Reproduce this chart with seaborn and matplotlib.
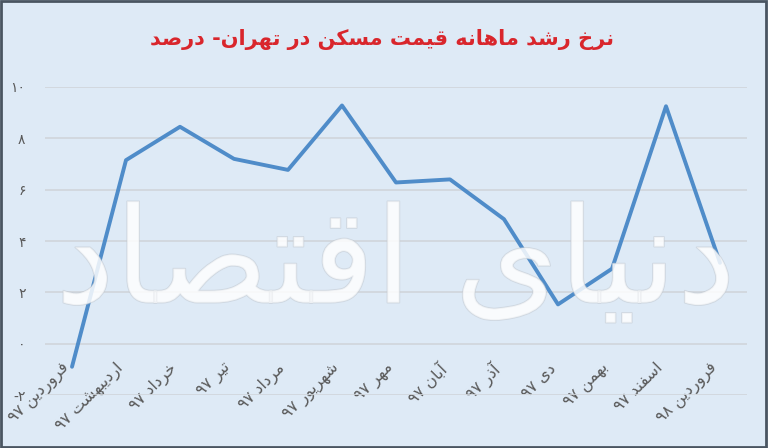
import matplotlib
matplotlib.use("Agg")
import matplotlib.pyplot as plt
import matplotlib.patheffects as pe
import pandas as pd
import seaborn as sns

# ── Data ────────────────────────────────────────────────────────────────────
months = ["فروردین ۹۷", "اردیبهشت ۹۷", "خرداد ۹۷", "تیر ۹۷", "مرداد ۹۷",
          "شهریور ۹۷", "مهر ۹۷", "آبان ۹۷", "آذر ۹۷", "دی ۹۷", "بهمن ۹۷",
          "اسفند ۹۷", "فروردین ۹۸"]
growth = [-0.9, 7.15, 8.45, 7.2, 6.77, 9.28, 6.28, 6.4, 4.85, 1.53, 2.92, 9.25, 3.15]
y_ticks = [-2, 0, 2, 4, 6, 8, 10]
y_labels = ["-۲", "۰", "۲", "۴", "۶", "۸", "۱۰"]
title = "نرخ رشد ماهانه قیمت مسکن در تهران- درصد"
watermark = "دنیای اقتصاد"

# ── Minimal Arabic/Persian shaping (matplotlib has no RTL support) ─────────
# iso, fin, ini, med
FORMS = {
    "ا": (0xFE8D, 0xFE8E, None, None), "آ": (0xFE81, 0xFE82, None, None),
    "ب": (0xFE8F, 0xFE90, 0xFE91, 0xFE92), "ت": (0xFE95, 0xFE96, 0xFE97, 0xFE98),
    "ث": (0xFE99, 0xFE9A, 0xFE9B, 0xFE9C), "ج": (0xFE9D, 0xFE9E, 0xFE9F, 0xFEA0),
    "ح": (0xFEA1, 0xFEA2, 0xFEA3, 0xFEA4), "خ": (0xFEA5, 0xFEA6, 0xFEA7, 0xFEA8),
    "د": (0xFEA9, 0xFEAA, None, None), "ذ": (0xFEAB, 0xFEAC, None, None),
    "ر": (0xFEAD, 0xFEAE, None, None), "ز": (0xFEAF, 0xFEB0, None, None),
    "س": (0xFEB1, 0xFEB2, 0xFEB3, 0xFEB4), "ش": (0xFEB5, 0xFEB6, 0xFEB7, 0xFEB8),
    "ص": (0xFEB9, 0xFEBA, 0xFEBB, 0xFEBC), "ض": (0xFEBD, 0xFEBE, 0xFEBF, 0xFEC0),
    "ط": (0xFEC1, 0xFEC2, 0xFEC3, 0xFEC4), "ظ": (0xFEC5, 0xFEC6, 0xFEC7, 0xFEC8),
    "ع": (0xFEC9, 0xFECA, 0xFECB, 0xFECC), "غ": (0xFECD, 0xFECE, 0xFECF, 0xFED0),
    "ف": (0xFED1, 0xFED2, 0xFED3, 0xFED4), "ق": (0xFED5, 0xFED6, 0xFED7, 0xFED8),
    "ل": (0xFEDD, 0xFEDE, 0xFEDF, 0xFEE0), "م": (0xFEE1, 0xFEE2, 0xFEE3, 0xFEE4),
    "ن": (0xFEE5, 0xFEE6, 0xFEE7, 0xFEE8), "ه": (0xFEE9, 0xFEEA, 0xFEEB, 0xFEEC),
    "و": (0xFEED, 0xFEEE, None, None),
    "پ": (0xFB56, 0xFB57, 0xFB58, 0xFB59), "چ": (0xFB7A, 0xFB7B, 0xFB7C, 0xFB7D),
    "ژ": (0xFB8A, 0xFB8B, None, None), "ک": (0xFB8E, 0xFB8F, 0xFB90, 0xFB91),
    "گ": (0xFB92, 0xFB93, 0xFB94, 0xFB95), "ی": (0xFBFC, 0xFBFD, 0xFBFE, 0xFBFF),
}


def shape(text):
    out = []
    for i, ch in enumerate(text):
        if ch not in FORMS:
            out.append(ch)
            continue
        prev = text[i - 1] if i > 0 else ""
        nxt = text[i + 1] if i + 1 < len(text) else ""
        join_prev = prev in FORMS and FORMS[prev][2] is not None
        join_next = FORMS[ch][2] is not None and nxt in FORMS
        iso, fin, ini, med = FORMS[ch]
        if join_prev and join_next:
            code = med
        elif join_prev:
            code = fin
        elif join_next:
            code = ini
        else:
            code = iso
        out.append(chr(code))
    # visual order: reverse, but keep digit runs left-to-right
    runs, cur = [], ""
    for ch in out:
        if ch.isdigit():
            cur += ch
        else:
            if cur:
                runs.append(cur)
                cur = ""
            runs.append(ch)
    if cur:
        runs.append(cur)
    return "".join(reversed(runs))


# ── Plot ────────────────────────────────────────────────────────────────────
sns.set_theme(style="white")
plt.rcParams["font.family"] = ["DejaVu Sans"]
BG = "#deeaf6"

df = pd.DataFrame({"pos": range(len(months)), "growth": growth})

fig = plt.figure(figsize=(7.68, 4.48), dpi=100, facecolor=BG)
ax = fig.add_axes([45 / 768, 1 - 395 / 448, 702 / 768, 308 / 448])
ax.set_facecolor(BG)

# faint publisher watermark
ax.text(0.5, 0.42, shape(watermark), transform=ax.transAxes, ha="center",
        va="center", fontsize=96, color="white", alpha=0.6, zorder=3,
        path_effects=[pe.withStroke(linewidth=1.2, foreground="#c3cad2")])

sns.lineplot(data=df, x="pos", y="growth", ax=ax, color="#4f8cc9",
             linewidth=2.8, zorder=2)

ax.set_xlim(-0.5, len(months) - 0.5)
ax.set_ylim(-2, 10)
ax.set_yticks(y_ticks)
ax.set_yticklabels(y_labels, color="#595959", fontsize=10)
ax.yaxis.grid(True, color="#d0d5db", linewidth=1.2)
ax.set_axisbelow(True)
ax.tick_params(axis="y", length=0, pad=14)

ax.spines["bottom"].set_position(("data", 0))
for s in ax.spines.values():
    s.set_visible(False)
ax.set_xticks(list(df["pos"]))
ax.set_xticklabels([shape(m) for m in months], rotation=45, ha="right",
                   va="top", color="#595959", fontsize=11.5)
ax.tick_params(axis="x", length=0, pad=12)
ax.set_xlabel("")
ax.set_ylabel("")

fig.text(0.497, 1 - 40 / 448, shape(title), ha="center", va="center",
         fontsize=15, fontweight="bold", color="#d9262c")

# outer frame
fig.patches.append(plt.Rectangle((0.001, 0.002), 0.997, 0.996,
                                 transform=fig.transFigure, fill=False,
                                 edgecolor="#4a5561", linewidth=2))

fig.savefig("out.png", dpi=100, facecolor=BG)
